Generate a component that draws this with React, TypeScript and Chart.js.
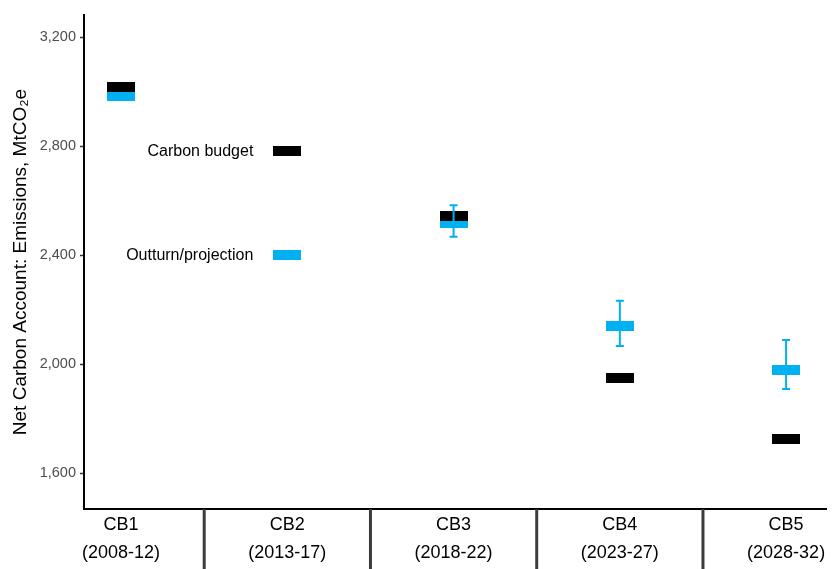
import React, { useEffect, useRef } from "react";
import { Chart, registerables } from "chart.js";

Chart.register(...registerables);

const categories = ["CB1", "CB2", "CB3", "CB4", "CB5"];
const periods = ["(2008-12)", "(2013-17)", "(2018-22)", "(2023-27)", "(2028-32)"];
const carbonBudget = [3018, 2782, 2544, 1950, 1725];
const outturn = [2982, 2400, 2517, 2138, 1979];
const rangeLow: (number | null)[] = [null, null, 2467, 2066, 1908];
const rangeHigh: (number | null)[] = [null, null, 2583, 2232, 2088];
const yTicks = [1600, 2000, 2400, 2800, 3200];
const seriesNames = ["Carbon budget", "Outturn/projection"];
const labelledCategory = 1;

const BLACK = "#000000";
const BLUE = "#00B0F0";
const FONT = '"Liberation Sans", Arial, sans-serif';

function makeMark(color: string) {
  const c = document.createElement("canvas");
  c.width = 28;
  c.height = 10;
  const g = c.getContext("2d")!;
  g.fillStyle = color;
  g.fillRect(0, 0, 28, 10);
  return c;
}

const overlayPlugin = {
  id: "overlay",
  afterDatasetsDraw(chart: any) {
    const { ctx, scales } = chart;
    const x = scales.x;
    const y = scales.y;
    ctx.save();
    ctx.strokeStyle = BLUE;
    ctx.lineWidth = 2;
    categories.forEach((_, i) => {
      const lo = rangeLow[i];
      const hi = rangeHigh[i];
      if (lo == null || hi == null) return;
      const px = x.getPixelForValue(i + 1);
      const pl = y.getPixelForValue(lo);
      const ph = y.getPixelForValue(hi);
      ctx.beginPath();
      ctx.moveTo(px, ph);
      ctx.lineTo(px, pl);
      ctx.moveTo(px - 4, ph);
      ctx.lineTo(px + 4, ph);
      ctx.moveTo(px - 4, pl);
      ctx.lineTo(px + 4, pl);
      ctx.stroke();
    });
    ctx.font = `16px ${FONT}`;
    ctx.fillStyle = "#000";
    ctx.textAlign = "right";
    ctx.textBaseline = "middle";
    [carbonBudget, outturn].forEach((s, k) => {
      const px = x.getPixelForValue(labelledCategory + 1) - 14 - 20;
      const py = y.getPixelForValue(s[labelledCategory]) + 1;
      ctx.fillText(seriesNames[k], px, py);
    });
    ctx.restore();
  },
  afterDraw(chart: any) {
    const { ctx, scales, chartArea } = chart;
    const x = scales.x;
    ctx.save();
    ctx.strokeStyle = "#3c3c3c";
    ctx.lineWidth = 3;
    for (let i = 1; i < categories.length; i++) {
      const px = x.getPixelForValue(i + 0.5);
      ctx.beginPath();
      ctx.moveTo(px, chartArea.bottom);
      ctx.lineTo(px, chart.height);
      ctx.stroke();
    }
    ctx.restore();
  },
};

export default function App() {
  const ref = useRef<HTMLCanvasElement>(null);
  useEffect(() => {
    if (!ref.current) return;
    const blackMark = makeMark(BLACK);
    const blueMark = makeMark(BLUE);
    const chart = new Chart(ref.current, {
      type: "scatter",
      data: {
        datasets: [
          {
            label: seriesNames[0],
            data: carbonBudget.map((v, i) => ({ x: i + 1, y: v })),
            pointStyle: blackMark as any,
            pointRadius: 5,
            backgroundColor: BLACK,
            borderColor: BLACK,
          },
          {
            label: seriesNames[1],
            data: outturn.map((v, i) => ({ x: i + 1, y: v })),
            pointStyle: blueMark as any,
            pointRadius: 5,
            backgroundColor: BLUE,
            borderColor: BLUE,
          },
        ],
      },
      options: {
        animation: false,
        responsive: true,
        maintainAspectRatio: false,
        layout: { padding: { top: 15, right: 6, left: 0, bottom: 0 } },
        plugins: { legend: { display: false }, tooltip: { enabled: false } },
        scales: {
          x: {
            type: "linear",
            min: 0.777,
            max: 5.24,
            afterBuildTicks: (s: any) => {
              s.ticks = categories.map((_, i) => ({ value: i + 1 }));
            },
            afterFit: (s: any) => {
              s.height = 60;
            },
            ticks: {
              autoSkip: false,
              maxRotation: 0,
              color: "#000",
              padding: 2,
              font: { family: FONT, size: 18, lineHeight: 1.55 },
              callback: (v: any) => [categories[Math.round(v) - 1], periods[Math.round(v) - 1]],
            },
            grid: { drawOnChartArea: false, drawTicks: false },
            border: { display: true, color: "#000", width: 2 },
          },
          y: {
            type: "linear",
            min: 1468,
            max: 3281,
            afterBuildTicks: (s: any) => {
              s.ticks = yTicks.map((v) => ({ value: v }));
            },
            afterFit: (s: any) => {
              s.width = 84;
            },
            ticks: {
              color: "#4d4d4d",
              padding: 4,
              font: { family: FONT, size: 14.5 },
              callback: (v: any) => Number(v).toLocaleString("en-US"),
            },
            grid: { drawOnChartArea: false, drawTicks: true, tickLength: 4, tickColor: "#333", tickWidth: 1.5 },
            border: { display: true, color: "#000", width: 2 },
            title: {
              display: true,
              text: "Net Carbon Account: Emissions, MtCO₂e",
              color: "#000",
              font: { family: FONT, size: 19 },
              padding: { top: 9, bottom: 0 },
            },
          },
        },
      },
      plugins: [overlayPlugin],
    });
    return () => chart.destroy();
  }, []);
  return (
    <div style={{ position: "fixed", left: 0, top: 0, width: 832, height: 569, background: "#fff" }}>
      <canvas ref={ref} />
    </div>
  );
}
